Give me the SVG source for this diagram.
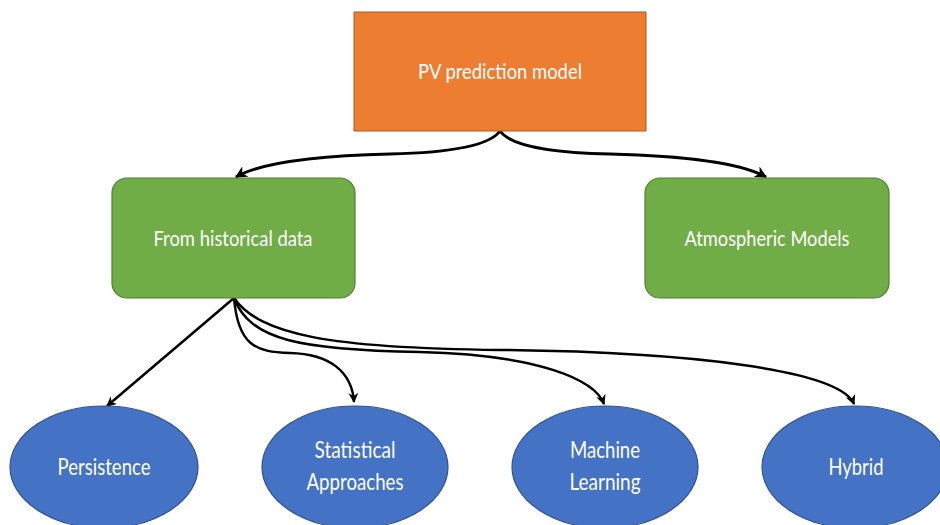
<svg xmlns="http://www.w3.org/2000/svg" width="940" height="525" viewBox="0 0 940 525">
  <style>
    .lbl { font-family: Lato, "Open Sans", "Liberation Sans", sans-serif; fill: #ffffff; text-anchor: middle; }
    .box-lbl { font-size: 22px; }
    .leaf-lbl { font-size: 24px; }
    .root { fill: #ED7D31; stroke: #AE5A21; stroke-width: 1; }
    .branch { fill: #70AD47; stroke: #507E32; stroke-width: 1.2; }
    .leaf { fill: #4472C4; stroke: #2F528F; stroke-width: 1.2; }
    .edge { fill: none; stroke: #000000; stroke-width: 3; }
    .edge-thin { fill: none; stroke: #000000; stroke-width: 2.5; }
  </style>
  <defs>
    <marker id="arrow" viewBox="0 0 10 10" refX="9" refY="5" markerWidth="4" markerHeight="4" markerUnits="strokeWidth" orient="auto">
      <path d="M0,0 L10,5 L0,10 L3,5 z" fill="#000000"/>
    </marker>
  </defs>

  <rect width="940" height="525" fill="#ffffff"/>

  <!-- connectors -->
  <g id="connectors">
    <path class="edge" d="M500,131 Q485,152 390,154 Q270,157 236,177" marker-end="url(#arrow)"/>
    <path class="edge" d="M500,131 Q515,152 610,154 Q730,157 766,177" marker-end="url(#arrow)"/>
    <path class="edge-thin" d="M234,298 L107,406" marker-end="url(#arrow)"/>
    <path class="edge-thin" d="M234,298 C238,345 255,352 290,353 C330,354 352,372 354,402" marker-end="url(#arrow)"/>
    <path class="edge-thin" d="M234,298 C250,340 300,350 420,352 C540,355 595,380 604,404" marker-end="url(#arrow)"/>
    <path class="edge-thin" d="M234,298 C260,335 330,348 500,350 C690,352 840,370 854,404" marker-end="url(#arrow)"/>
  </g>

  <!-- nodes -->
  <g id="pv-model">
    <rect class="root" x="354" y="12" width="292" height="119"/>
    <text class="lbl box-lbl" x="500" y="79" textLength="164" lengthAdjust="spacingAndGlyphs">PV prediction model</text>
  </g>
  <g id="historical">
    <rect class="branch" x="112" y="178" width="243" height="120" rx="15" ry="15"/>
    <text class="lbl box-lbl" x="233" y="246" textLength="159" lengthAdjust="spacingAndGlyphs">From historical data</text>
  </g>
  <g id="atmospheric">
    <rect class="branch" x="645" y="178" width="244" height="120" rx="15" ry="15"/>
    <text class="lbl box-lbl" x="767" y="246" textLength="165" lengthAdjust="spacingAndGlyphs">Atmospheric Models</text>
  </g>
  <g id="persistence">
    <ellipse class="leaf" cx="104" cy="467" rx="94" ry="61"/>
    <text class="lbl leaf-lbl" x="104" y="475" textLength="93" lengthAdjust="spacingAndGlyphs">Persistence</text>
  </g>
  <g id="statistical">
    <ellipse class="leaf" cx="355" cy="467" rx="93" ry="61"/>
    <text class="lbl leaf-lbl" x="355" y="458" textLength="81" lengthAdjust="spacingAndGlyphs">Statistical</text>
    <text class="lbl leaf-lbl" x="355" y="490" textLength="97" lengthAdjust="spacingAndGlyphs">Approaches</text>
  </g>
  <g id="machine-learning">
    <ellipse class="leaf" cx="605" cy="467" rx="93" ry="61"/>
    <text class="lbl leaf-lbl" x="605" y="458" textLength="70" lengthAdjust="spacingAndGlyphs">Machine</text>
    <text class="lbl leaf-lbl" x="605" y="490" textLength="71" lengthAdjust="spacingAndGlyphs">Learning</text>
  </g>
  <g id="hybrid">
    <ellipse class="leaf" cx="855" cy="467" rx="93" ry="61"/>
    <text class="lbl leaf-lbl" x="856" y="475" textLength="55" lengthAdjust="spacingAndGlyphs">Hybrid</text>
  </g>
</svg>
